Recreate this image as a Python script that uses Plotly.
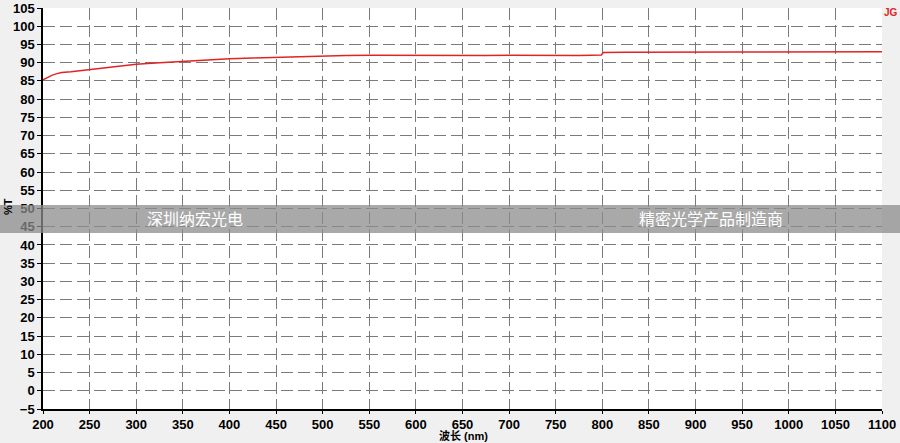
import plotly.graph_objects as go

wavelength = [200, 205, 210, 215, 220, 230, 240, 250, 260, 275, 290, 300, 325, 350, 375, 400,
              425, 450, 475, 500, 525, 550, 575, 600, 625, 650, 675, 700, 725, 750, 775, 799,
              801, 825, 850, 875, 900, 925, 950, 975, 1000, 1025, 1050, 1075, 1100]
transmittance = [85.3, 86.0, 86.6, 87.0, 87.3, 87.5, 87.8, 88.1, 88.4, 88.9, 89.3, 89.6, 90.0, 90.4,
                 90.8, 91.1, 91.3, 91.5, 91.7, 91.8, 91.95, 92.05, 92.0, 92.0, 92.05, 92.0, 92.0,
                 92.05, 92.0, 92.05, 92.0, 92.1, 92.8, 92.85, 92.9, 92.85, 92.9, 92.9, 92.95,
                 92.9, 92.95, 92.9, 93.0, 92.95, 93.0]

x_ticks = list(range(200, 1101, 50))
y_ticks = list(range(-5, 106, 5))
band_left = "深圳纳宏光电"
band_right = "精密光学产品制造商"

L, R, T, B = 43, 882, 8, 409
W, H = R - L, B - T

def px(x):
    return (x - L) / W

def py(y):
    return (B - y) / H

fig = go.Figure()
fig.add_trace(go.Scatter(x=wavelength, y=transmittance, mode="lines",
                         line=dict(color="#e02424", width=1.5), showlegend=False))

tickfont = dict(family="Liberation Sans, Arial", size=13, color="black", weight="bold")
fig.update_layout(
    width=900, height=443,
    margin=dict(l=L, r=900 - R, t=T, b=443 - B, autoexpand=False),
    paper_bgcolor="#f0f0f0", plot_bgcolor="white",
    xaxis=dict(range=[200, 1100], tickvals=x_ticks, ticks="outside", ticklen=3,
               tickcolor="black", showline=True, linecolor="black", linewidth=1.5,
               showgrid=True, gridcolor="#7a7a7a", griddash="12px,5px", gridwidth=1,
               zeroline=False, tickfont=tickfont, automargin=False),
    yaxis=dict(range=[-5, 105], tickvals=y_ticks, ticks="outside", ticklen=4,
               tickcolor="black", showline=True, linecolor="black", linewidth=1.5,
               showgrid=True, gridcolor="#7a7a7a", griddash="12px,5px", gridwidth=1,
               zeroline=False, tickfont=tickfont, automargin=False),
)

fig.add_shape(type="rect", xref="paper", yref="paper",
              x0=px(0), x1=px(900), y0=py(233), y1=py(205),
              fillcolor="rgba(140,140,140,0.75)", line=dict(width=0), layer="above")

def note(text, x, y, font, angle=0):
    fig.add_annotation(xref="paper", yref="paper", x=px(x), y=py(y), text=text,
                       showarrow=False, xanchor="center", yanchor="middle",
                       textangle=angle, font=font)

note(band_left, 195, 218, dict(family="Noto Sans CJK SC", size=16, color="white"))
note(band_right, 711, 218, dict(family="Noto Sans CJK SC", size=16, color="white"))
note("JG", 891, 12, dict(family="Liberation Sans", size=10, color="#e02424", weight="bold"))
note("波长 (nm)", 463, 436, dict(family="Liberation Sans, Noto Sans CJK SC", size=11,
                                color="black", weight="bold"))
note("%T", 8, 207, dict(family="Liberation Sans", size=11, color="black", weight="bold"),
     angle=-90)

fig.write_html("out.html", config={"displayModeBar": False},
               post_script="document.body.style.margin='0px';document.body.style.overflow='hidden';")
